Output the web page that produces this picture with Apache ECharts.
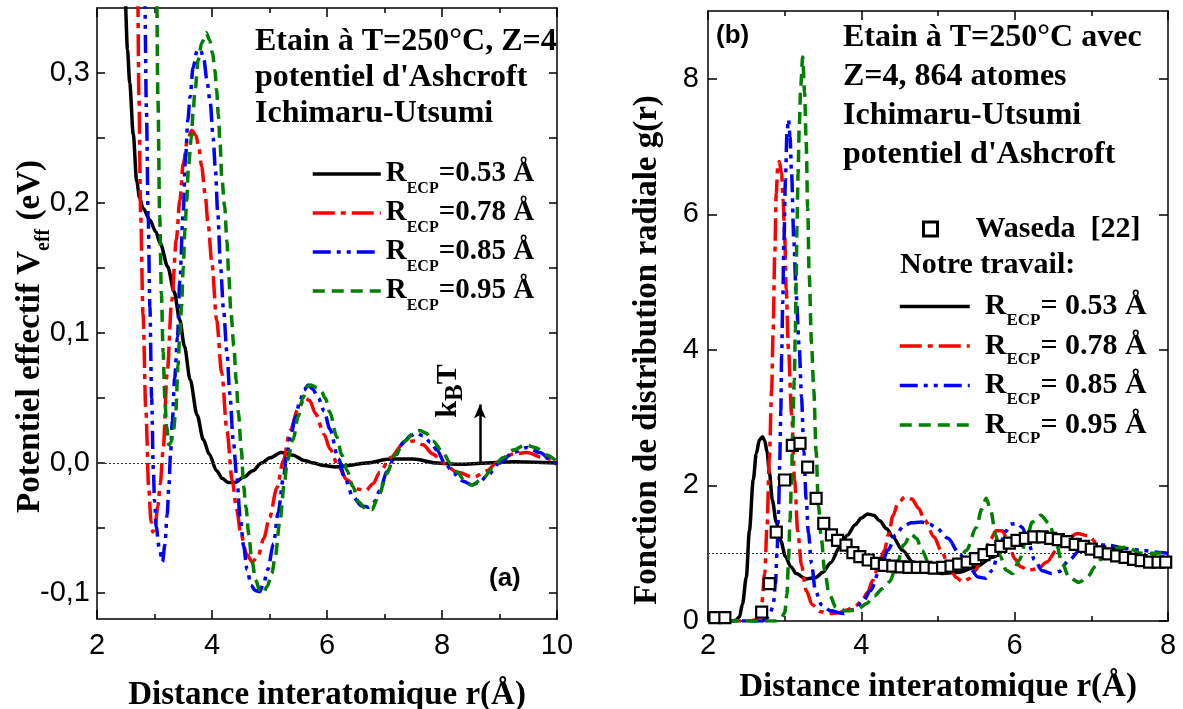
<!DOCTYPE html>
<html><head><meta charset="utf-8">
<script src="https://cdn.jsdelivr.net/npm/echarts@6/dist/echarts.min.js"></script>
<style>html,body{margin:0;padding:0;background:#fff}#c{width:1183px;height:709px}</style>
</head><body><div id="c"></div>
<script>
// ---------- tick labels ----------
const leftXTicks = [2, 4, 6, 8, 10];
const leftYLabels = [-0.1, 0, 0.1, 0.2, 0.3];
const leftYTicks = [-0.1, -0.05, 0, 0.05, 0.1, 0.15, 0.2, 0.25, 0.3];
const rightXTicks = [2, 4, 6, 8];
const rightYTicks = [0, 2, 4, 6, 8];
// ---------- legend labels ----------
const leftNames = ['=0.53 Å', '=0.78 Å', '=0.85 Å', '=0.95 Å'];
const rightNames = ['= 0.53 Å', '= 0.78 Å', '= 0.85 Å', '= 0.95 Å'];
const wasedaName = 'Waseda  [22]';
// ---------- kBT arrow ----------
const kBT = 0.045;
const kBTr = 8.66;
// ---------- (a) effective potential V_eff(r) [r (Å), V (eV)] ----------
const vBlack = [[2.40,0.55],[2.45,0.43],[2.49,0.356],[2.53,0.318],[2.57,0.292],[2.63,0.253],[2.69,0.217],[2.74,0.204],[2.80,0.196],[2.92,0.187],[3.02,0.178],[3.10,0.169],[3.23,0.151],[3.34,0.132],[3.44,0.110],[3.52,0.090],[3.62,0.064],[3.74,0.037],[3.85,0.018],[3.95,0.007],[4.08,-0.006],[4.18,-0.012],[4.28,-0.015],[4.40,-0.015],[4.55,-0.011],[4.71,-0.006],[4.86,0.000],[5.01,0.004],[5.20,0.008],[5.41,0.006],[5.60,0.002],[5.76,0.000],[5.95,-0.002],[6.15,-0.003],[6.35,-0.002],[6.69,0.000],[7.10,0.003],[7.50,0.003],[7.91,0.000],[8.31,-0.001],[8.78,0.000],[9.24,0.001],[10.0,0.0]];
const vRed = [[2.66,0.6],[2.70,0.40],[2.73,0.28],[2.76,0.19],[2.80,0.115],[2.85,0.04],[2.90,-0.02],[2.94,-0.045],[2.97,-0.053],[3.01,-0.048],[3.06,-0.033],[3.10,-0.016],[3.15,0.010],[3.22,0.069],[3.30,0.125],[3.38,0.172],[3.44,0.202],[3.50,0.230],[3.57,0.248],[3.65,0.256],[3.72,0.252],[3.77,0.243],[3.82,0.228],[3.88,0.207],[3.93,0.185],[4.00,0.153],[4.08,0.110],[4.17,0.069],[4.26,0.025],[4.35,-0.013],[4.43,-0.036],[4.50,-0.054],[4.60,-0.070],[4.70,-0.076],[4.80,-0.072],[4.90,-0.058],[5.00,-0.042],[5.13,-0.019],[5.24,0.002],[5.36,0.025],[5.50,0.042],[5.62,0.050],[5.70,0.048],[5.80,0.038],[5.95,0.022],[6.05,0.011],[6.20,-0.003],[6.35,-0.013],[6.52,-0.020],[6.68,-0.021],[6.80,-0.016],[6.92,-0.007],[7.10,0.004],[7.33,0.015],[7.50,0.017],[7.67,0.014],[7.84,0.007],[8.02,0.000],[8.26,-0.007],[8.55,-0.011],[8.78,-0.006],[8.95,0.000],[9.24,0.007],[9.48,0.008],[9.76,0.004],[10.0,0.001]];
const vBlue = [[2.78,0.6],[2.83,0.36],[2.86,0.27],[2.89,0.19],[2.92,0.12],[2.95,0.05],[2.98,-0.005],[3.00,-0.029],[3.03,-0.049],[3.08,-0.065],[3.14,-0.076],[3.18,-0.063],[3.22,-0.040],[3.25,-0.018],[3.28,0.008],[3.31,0.032],[3.35,0.065],[3.40,0.097],[3.44,0.140],[3.50,0.194],[3.54,0.235],[3.58,0.264],[3.62,0.282],[3.67,0.304],[3.74,0.317],[3.80,0.318],[3.86,0.310],[3.91,0.295],[3.97,0.277],[4.02,0.250],[4.06,0.225],[4.10,0.192],[4.15,0.150],[4.20,0.118],[4.26,0.085],[4.31,0.053],[4.37,0.017],[4.43,-0.010],[4.49,-0.042],[4.55,-0.064],[4.61,-0.082],[4.68,-0.094],[4.75,-0.098],[4.83,-0.099],[4.90,-0.092],[4.97,-0.082],[5.07,-0.062],[5.15,-0.038],[5.24,-0.012],[5.30,0.006],[5.37,0.021],[5.45,0.035],[5.53,0.048],[5.60,0.056],[5.67,0.060],[5.75,0.057],[5.85,0.050],[5.95,0.040],[6.05,0.026],[6.20,0.003],[6.32,-0.013],[6.45,-0.026],[6.60,-0.033],[6.72,-0.034],[6.82,-0.030],[6.92,-0.021],[7.04,-0.007],[7.18,0.005],[7.33,0.016],[7.45,0.021],[7.56,0.023],[7.67,0.021],[7.80,0.016],[7.91,0.010],[8.05,0.000],[8.20,-0.008],[8.37,-0.014],[8.52,-0.017],[8.65,-0.015],[8.78,-0.010],[9.00,0.000],[9.24,0.008],[9.48,0.012],[9.70,0.008],[9.93,0.001],[10.0,-0.001]];
const vGreen = [[3.00,0.6],[3.03,0.40],[3.06,0.28],[3.09,0.19],[3.12,0.13],[3.15,0.085],[3.18,0.050],[3.21,0.028],[3.25,0.014],[3.29,0.016],[3.33,0.025],[3.37,0.040],[3.41,0.075],[3.44,0.100],[3.47,0.120],[3.50,0.150],[3.53,0.179],[3.56,0.202],[3.59,0.228],[3.64,0.250],[3.67,0.269],[3.70,0.284],[3.76,0.310],[3.82,0.323],[3.90,0.331],[3.96,0.325],[4.01,0.315],[4.05,0.302],[4.08,0.287],[4.11,0.268],[4.14,0.246],[4.17,0.220],[4.22,0.197],[4.26,0.170],[4.29,0.145],[4.33,0.115],[4.38,0.090],[4.42,0.064],[4.46,0.038],[4.51,0.010],[4.55,-0.018],[4.59,-0.034],[4.64,-0.055],[4.69,-0.074],[4.76,-0.090],[4.83,-0.098],[4.89,-0.100],[4.96,-0.095],[5.04,-0.085],[5.10,-0.072],[5.18,-0.045],[5.26,-0.015],[5.31,0.002],[5.41,0.018],[5.50,0.036],[5.58,0.050],[5.66,0.059],[5.72,0.060],[5.82,0.058],[5.90,0.055],[5.97,0.050],[6.05,0.039],[6.17,0.020],[6.26,0.006],[6.35,-0.006],[6.45,-0.018],[6.55,-0.030],[6.67,-0.035],[6.78,-0.036],[6.90,-0.025],[7.04,-0.008],[7.18,0.006],[7.36,0.017],[7.50,0.023],[7.62,0.025],[7.72,0.023],[7.84,0.017],[8.02,0.008],[8.14,0.000],[8.26,-0.007],[8.40,-0.014],[8.52,-0.017],[8.71,-0.012],[8.88,-0.004],[9.06,0.004],[9.24,0.010],[9.45,0.014],[9.62,0.012],[9.83,0.006],[10.0,0.001]];
// ---------- (b) radial distribution g(r) [r (Å), g] ----------
const gBlack = [[2.0,0],[2.30,0],[2.36,0.01],[2.41,0.06],[2.45,0.25],[2.50,0.65],[2.54,1.33],[2.59,2.08],[2.63,2.47],[2.67,2.67],[2.71,2.72],[2.74,2.66],[2.77,2.50],[2.80,2.20],[2.84,1.78],[2.89,1.46],[2.95,1.18],[3.01,0.95],[3.08,0.80],[3.15,0.70],[3.28,0.62],[3.40,0.64],[3.50,0.72],[3.60,0.86],[3.72,1.09],[3.82,1.27],[3.92,1.42],[4.00,1.52],[4.08,1.58],[4.16,1.56],[4.24,1.48],[4.33,1.36],[4.41,1.24],[4.54,1.04],[4.67,0.87],[4.85,0.75],[5.06,0.70],[5.28,0.72],[5.50,0.80],[5.71,0.94],[5.93,1.09],[6.15,1.19],[6.32,1.24],[6.45,1.23],[6.58,1.19],[6.80,1.09],[7.02,1.01],[7.23,0.95],[7.46,0.90],[7.67,0.86],[7.85,0.85],[8.0,0.85]];
const gRed = [[2.0,0],[2.55,0],[2.62,0.02],[2.67,0.10],[2.70,0.25],[2.74,0.70],[2.77,1.40],[2.80,2.40],[2.83,3.40],[2.85,4.30],[2.87,5.37],[2.89,6.30],[2.91,6.72],[2.93,6.78],[2.96,6.60],[2.98,6.20],[3.00,5.70],[3.02,4.90],[3.05,4.00],[3.09,3.06],[3.13,2.08],[3.17,1.33],[3.22,0.82],[3.28,0.45],[3.36,0.24],[3.46,0.14],[3.58,0.11],[3.70,0.12],[3.80,0.16],[3.92,0.22],[4.01,0.30],[4.08,0.42],[4.15,0.60],[4.22,0.80],[4.30,1.04],[4.36,1.30],[4.41,1.55],[4.48,1.74],[4.57,1.83],[4.66,1.80],[4.75,1.66],[4.82,1.50],[4.95,1.24],[5.04,1.04],[5.15,0.79],[5.24,0.64],[5.32,0.58],[5.40,0.62],[5.48,0.74],[5.58,0.92],[5.68,1.20],[5.76,1.33],[5.84,1.33],[5.92,1.15],[6.00,0.92],[6.08,0.80],[6.18,0.75],[6.30,0.77],[6.42,0.87],[6.55,1.05],[6.68,1.21],[6.82,1.29],[6.95,1.26],[7.08,1.15],[7.22,1.05],[7.40,0.99],[7.60,0.94],[7.80,0.88],[8.0,0.82]];
const gBlue = [[2.0,0],[2.70,0],[2.75,0.02],[2.80,0.08],[2.85,0.22],[2.88,0.55],[2.90,1.00],[2.92,1.60],[2.935,2.30],[2.95,3.10],[2.96,3.90],[2.975,4.70],[2.99,5.60],[3.01,6.50],[3.03,7.20],[3.05,7.40],[3.07,7.15],[3.09,6.60],[3.12,5.60],[3.15,4.80],[3.19,4.04],[3.22,3.30],[3.25,2.50],[3.28,1.80],[3.31,1.30],[3.35,0.85],[3.40,0.45],[3.48,0.24],[3.60,0.15],[3.76,0.11],[3.90,0.17],[4.02,0.28],[4.12,0.45],[4.24,0.75],[4.35,1.05],[4.45,1.27],[4.55,1.40],[4.65,1.45],[4.78,1.46],[4.89,1.43],[4.98,1.37],[5.13,1.22],[5.28,0.99],[5.41,0.79],[5.52,0.65],[5.62,0.63],[5.71,0.75],[5.80,1.08],[5.88,1.32],[5.95,1.43],[6.03,1.44],[6.10,1.38],[6.18,1.15],[6.26,0.90],[6.36,0.74],[6.48,0.70],[6.58,0.73],[6.71,0.90],[6.85,1.04],[7.02,1.12],[7.20,1.12],[7.46,1.07],[7.67,1.04],[7.89,1.01],[8.0,1.0]];
const gGreen = [[2.0,0],[2.88,0],[2.95,0.03],[3.00,0.12],[3.03,0.40],[3.05,0.90],[3.07,1.50],[3.09,2.10],[3.105,2.80],[3.125,3.55],[3.14,4.30],[3.15,5.00],[3.16,5.80],[3.175,6.60],[3.19,7.30],[3.21,7.90],[3.235,8.32],[3.26,7.80],[3.28,7.10],[3.30,6.10],[3.32,5.10],[3.35,4.10],[3.38,3.40],[3.41,2.50],[3.44,1.70],[3.48,1.20],[3.52,0.75],[3.58,0.40],[3.67,0.20],[3.80,0.15],[3.94,0.16],[4.07,0.26],[4.17,0.37],[4.28,0.48],[4.37,0.58],[4.46,0.82],[4.55,1.12],[4.65,1.28],[4.72,1.22],[4.79,1.04],[4.89,0.83],[4.98,0.79],[5.10,0.78],[5.24,0.85],[5.37,1.04],[5.50,1.38],[5.57,1.65],[5.63,1.81],[5.69,1.62],[5.75,1.28],[5.81,0.96],[5.89,0.75],[5.97,0.70],[6.06,0.90],[6.15,1.19],[6.23,1.46],[6.34,1.56],[6.45,1.44],[6.54,1.15],[6.62,0.85],[6.71,0.64],[6.84,0.57],[6.95,0.65],[7.05,0.80],[7.16,0.96],[7.28,1.07],[7.46,1.09],[7.65,1.00],[7.85,1.00],[8.0,1.04]];
const wasedaR = [2.09,2.22,2.7,2.8,2.89,3.0,3.1,3.2,3.3,3.41,3.51,3.61,3.69,3.8,3.89,3.98,4.09,4.2,4.3,4.41,4.52,4.62,4.73,4.84,4.95,5.06,5.17,5.27,5.38,5.49,5.6,5.71,5.82,5.93,6.03,6.14,6.25,6.36,6.47,6.57,6.68,6.79,6.9,7.0,7.11,7.22,7.33,7.44,7.55,7.65,7.76,7.87,7.97];
const wasedaG = [0.05,0.05,0.13,0.55,1.31,2.08,2.59,2.62,2.27,1.81,1.44,1.27,1.19,1.12,1.01,0.95,0.9,0.85,0.82,0.81,0.8,0.79,0.79,0.79,0.78,0.79,0.81,0.84,0.87,0.92,0.98,1.04,1.1,1.15,1.19,1.22,1.24,1.24,1.22,1.2,1.17,1.13,1.1,1.06,1.02,0.99,0.96,0.94,0.91,0.89,0.87,0.87,0.87];

const colors = ['#000000', '#ff0000', '#0000ff', '#008000'];
const dashes = ['solid', [22, 6, 5, 6], [18, 6, 4, 6, 4, 6], [12, 7]];

const SERIF = '"Liberation Serif", "Times New Roman", serif';
const SANS = '"Liberation Sans", Arial, sans-serif';

const chart = echarts.init(document.getElementById('c'), null, {renderer: 'canvas'});

function subRich(main, sub, lh) {
  return {
    r: {fontFamily: SERIF, fontWeight: 'bold', fontSize: main, lineHeight: lh, verticalAlign: 'middle', color: '#000'},
    s: {fontFamily: SERIF, fontWeight: 'bold', fontSize: sub, lineHeight: sub, verticalAlign: 'bottom', color: '#000'}
  };
}
const fmtComma = v => v.toFixed(1).replace('.', ',');

const axisLineStyle = {show: true, onZero: false, lineStyle: {color: '#000', width: 1.5}};
const tickLabelStyle = {fontFamily: SANS, fontSize: 29, color: '#000'};

function xAxisDef(grid, min, max, pos, showLabel, name, gap, margin) {
  return {
    type: 'value', gridIndex: grid, min: min, max: max, interval: 2, position: pos,
    axisLine: axisLineStyle,
    axisTick: {show: true, inside: true, length: 9, lineStyle: {color: '#000', width: 1.5}},
    minorTick: {show: true, splitNumber: 2, length: 5, lineStyle: {color: '#000', width: 1.5}},
    splitLine: {show: false}, minorSplitLine: {show: false},
    axisLabel: Object.assign({show: showLabel, margin: margin, showMinLabel: true, showMaxLabel: true}, tickLabelStyle),
    name: showLabel ? name : '', nameLocation: 'middle', nameGap: gap, nameMoveOverlap: false,
    nameTextStyle: {fontFamily: SERIF, fontWeight: 'bold', fontSize: 33, color: '#000', lineHeight: 40}
  };
}

const leftSeriesData = [vBlack, vRed, vBlue, vGreen];
const rightSeriesData = [gBlack, gRed, gBlue, gGreen];

const series = [];
leftSeriesData.forEach((d, i) => {
  const s = {
    type: 'line', name: 'R' + leftNames[i], xAxisIndex: 0, yAxisIndex: 0, data: d,
    symbol: 'none', smooth: 0.3, smoothMonotone: 'x', clip: true,
    lineStyle: {color: colors[i], width: 3.5, type: dashes[i]}, itemStyle: {color: colors[i]}, z: 2 + i
  };
  if (i === 0) {
    s.markLine = {
      silent: true, symbol: 'none', animation: false, label: {show: false},
      data: [
        {yAxis: 0, lineStyle: {type: [2, 2], color: '#333', width: 1}},
        [{coord: [kBTr, 0], symbol: 'none', lineStyle: {type: 'solid', color: '#000', width: 2.5}},
         {coord: [kBTr, kBT], symbol: 'arrow', symbolSize: [9, 14]}]
      ]
    };
  }
  series.push(s);
});
rightSeriesData.forEach((d, i) => {
  const s = {
    type: 'line', name: 'R' + rightNames[i], xAxisIndex: 2, yAxisIndex: 2, data: d,
    symbol: 'none', smooth: 0.3, smoothMonotone: 'x', clip: true,
    lineStyle: {color: colors[i], width: 3.5, type: dashes[i]}, itemStyle: {color: colors[i]}, z: 2 + i
  };
  if (i === 0) {
    s.markLine = {
      silent: true, symbol: 'none', animation: false, label: {show: false},
      data: [{yAxis: 1, lineStyle: {type: [2, 2], color: '#333', width: 1}}]
    };
  }
  series.push(s);
});
series.push({
  type: 'scatter', name: wasedaName, xAxisIndex: 2, yAxisIndex: 2,
  data: wasedaR.map((r, i) => [r, wasedaG[i]]),
  symbol: 'rect', symbolSize: 11, z: 10,
  itemStyle: {color: '#fff', borderColor: '#000', borderWidth: 2.2, opacity: 1}
});

const option = {
  animation: false,
  backgroundColor: '#fff',
  grid: [
    {left: 97, top: 8, width: 460, height: 611, outerBoundsMode: 'none', containLabel: false},
    {left: 708, top: 11, width: 460, height: 610, outerBoundsMode: 'none', containLabel: false}
  ],
  xAxis: [
    xAxisDef(0, 2, 10, 'bottom', true, 'Distance interatomique r(Å)', 56, 12),
    xAxisDef(0, 2, 10, 'top', false, '', 0, 10),
    xAxisDef(1, 2, 8, 'bottom', true, 'Distance interatomique r(Å)', 46, 10),
    xAxisDef(1, 2, 8, 'top', false, '', 0, 10)
  ],
  yAxis: [
    {
      type: 'value', gridIndex: 0, min: -0.12, max: 0.35, position: 'left',
      axisLine: axisLineStyle,
      axisTick: {show: true, inside: true, length: 8, customValues: leftYTicks, lineStyle: {color: '#000', width: 1.5}},
      splitLine: {show: false},
      axisLabel: Object.assign({show: true, margin: 7, customValues: leftYLabels, formatter: fmtComma}, tickLabelStyle),
      name: '{r|Potentiel effectif V}{s|eff}{r| (eV)}', nameLocation: 'middle', nameGap: 43, nameMoveOverlap: false,
      nameTextStyle: {rich: subRich(33, 20, 48), padding: [0, 46, 0, 0]}
    },
    {
      type: 'value', gridIndex: 0, min: -0.12, max: 0.35, position: 'right',
      axisLine: axisLineStyle,
      axisTick: {show: true, inside: true, length: 8, customValues: leftYTicks, lineStyle: {color: '#000', width: 1.5}},
      splitLine: {show: false}, axisLabel: {show: false}
    },
    {
      type: 'value', gridIndex: 1, min: 0, max: 9, position: 'left',
      axisLine: axisLineStyle,
      axisTick: {show: true, inside: true, length: 9, customValues: rightYTicks, lineStyle: {color: '#000', width: 1.5}},
      splitLine: {show: false},
      axisLabel: Object.assign({show: true, margin: 9, customValues: rightYTicks}, tickLabelStyle),
      name: 'Fonction de distribution radiale g(r)', nameLocation: 'middle', nameGap: 41, nameMoveOverlap: false,
      nameTextStyle: {fontFamily: SERIF, fontWeight: 'bold', fontSize: 33, lineHeight: 40, color: '#000', padding: [0, 68, 0, 0]}
    },
    {
      type: 'value', gridIndex: 1, min: 0, max: 9, position: 'right',
      axisLine: axisLineStyle,
      axisTick: {show: true, inside: true, length: 9, customValues: rightYTicks, lineStyle: {color: '#000', width: 1.5}},
      splitLine: {show: false}, axisLabel: {show: false}
    }
  ],
  legend: [
    {
      data: leftNames.map(n => 'R' + n), orient: 'vertical', left: 311, top: 156, padding: 0,
      itemWidth: 68, itemHeight: 45, itemGap: -1.5, selectedMode: false,
      itemStyle: {opacity: 0}, lineStyle: {width: 3.5},
      formatter: name => '{r|R}{s|ECP}{r|' + name.slice(1) + '}',
      textStyle: {rich: subRich(29, 16, 45)}
    },
    {
      data: [wasedaName], orient: 'vertical', left: 922, top: 214, padding: 0,
      itemWidth: 14, itemHeight: 14, selectedMode: false,
      itemStyle: {borderWidth: 3, borderColor: '#000', color: '#fff'},
      textStyle: {fontFamily: SERIF, fontWeight: 'bold', fontSize: 30, color: '#000', padding: [0, 0, 0, 33]}
    },
    {
      data: rightNames.map(n => 'R' + n), orient: 'vertical', left: 898, top: 288.5, padding: 0,
      itemWidth: 70, itemHeight: 45, itemGap: -1, selectedMode: false,
      itemStyle: {opacity: 0}, lineStyle: {width: 3.5},
      formatter: name => '{r|R}{s|ECP}{r|' + name.slice(1) + '}',
      textStyle: {rich: subRich(30, 17, 45), padding: [0, 0, 0, 10]}
    }
  ],
  graphic: [
    {type: 'text', left: 255, top: 26, style: {text: 'Etain à T=250°C, Z=4', font: 'bold 32px ' + SERIF, fill: '#000'}},
    {type: 'text', left: 255, top: 62, style: {text: "potentiel d'Ashcroft", font: 'bold 32px ' + SERIF, fill: '#000'}},
    {type: 'text', left: 255, top: 98, style: {text: 'Ichimaru-Utsumi', font: 'bold 32px ' + SERIF, fill: '#000'}},
    {type: 'text', left: 843, top: 22, style: {text: 'Etain à T=250°C avec', font: 'bold 32px ' + SERIF, fill: '#000'}},
    {type: 'text', left: 843, top: 61, style: {text: 'Z=4, 864 atomes', font: 'bold 32px ' + SERIF, fill: '#000'}},
    {type: 'text', left: 843, top: 100, style: {text: 'Ichimaru-Utsumi', font: 'bold 32px ' + SERIF, fill: '#000'}},
    {type: 'text', left: 843, top: 139, style: {text: "potentiel d'Ashcroft", font: 'bold 32px ' + SERIF, fill: '#000'}},
    {type: 'text', left: 900, top: 250, style: {text: 'Notre travail:', font: 'bold 30px ' + SERIF, fill: '#000'}},
    {type: 'text', left: 489, top: 566, style: {text: '(a)', font: 'bold 26px ' + SANS, fill: '#000'}},
    {type: 'text', left: 716, top: 23, style: {text: '(b)', font: 'bold 26px ' + SANS, fill: '#000'}},
    {type: 'text', x: 448, y: 391, rotation: Math.PI / 2,
     style: {text: '{r|k}{s|B}{r|T}', rich: subRich(30, 25, 40), align: 'center', verticalAlign: 'middle'}}
  ],
  series: series
};
chart.setOption(option);
</script>
</body></html>
